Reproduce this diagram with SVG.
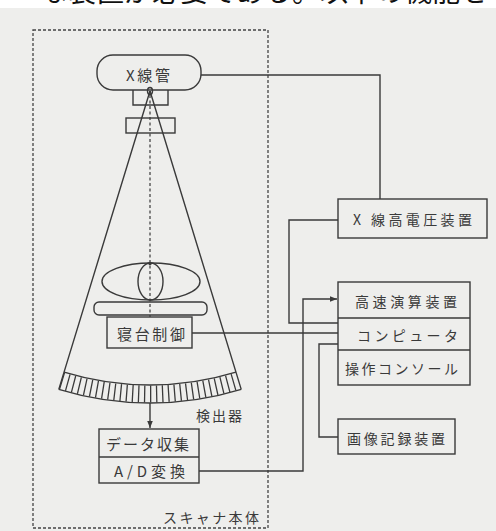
<svg xmlns="http://www.w3.org/2000/svg" width="496" height="531" viewBox="0 0 496 531">
  <defs>
    <style>
      .ln{fill:none;stroke:#3a3a3a;stroke-width:1.4}
      .box{fill:none;stroke:#3a3a3a;stroke-width:1.4}
      .frame{fill:none;stroke:#444;stroke-width:1.3;stroke-dasharray:3 2}
      .axis{fill:none;stroke:#3a3a3a;stroke-width:1.2;stroke-dasharray:3 2.5}
      .t{font-family:"Noto Sans CJK JP","Noto Sans CJK SC",sans-serif;font-size:15px;fill:#3a3a3a;text-anchor:middle;dominant-baseline:central}
      .s{font-size:14px}
    </style>
    <marker id="ah" viewBox="0 0 10 10" refX="10" refY="5" markerWidth="8" markerHeight="7" markerUnits="userSpaceOnUse" orient="auto">
      <path d="M0,1 L10,5 L0,9 z" fill="#3a3a3a"/>
    </marker>
  </defs>

  <!-- paper -->
  <rect x="0" y="0" width="496" height="531" fill="#eeeeec"/>
  <rect x="0" y="0" width="496" height="8" fill="#ffffff"/>
  <text x="40" y="2" font-family="'Noto Sans CJK JP',sans-serif" font-size="28" fill="#111" textLength="448" lengthAdjust="spacing">な装置が必要である。以下の機能を</text>

  <!-- scanner housing -->
  <g id="scanner">
    <rect class="frame" x="33" y="30" width="235" height="498"/>
    <text class="t s" x="211" y="517" textLength="96" lengthAdjust="spacing">スキャナ本体</text>
  </g>

  <!-- X-ray tube -->
  <g id="xray-tube">
    <rect class="box" x="97" y="55" width="104" height="35" rx="16"/>
    <text class="t" x="148" y="74" textLength="44" lengthAdjust="spacing">X線管</text>
    <path class="box" d="M133,90 V105 H168 V90"/>
    <ellipse class="ln" cx="150" cy="91" rx="2.5" ry="3.5"/>
  </g>

  <!-- collimator -->
  <g id="collimator">
    <rect class="box" x="126" y="118" width="49" height="15"/>
  </g>

  <!-- fan beam and central axis -->
  <g id="beam">
    <path class="ln" d="M150,91 L64.04,372.15 M150,91 L235.96,372.15"/>
    <path class="axis" d="M150,95 V317"/>
  </g>

  <!-- patient -->
  <g id="patient">
    <ellipse class="ln" cx="151" cy="281.5" rx="49" ry="18.5"/>
    <ellipse class="ln" cx="150.5" cy="281.5" rx="12.5" ry="18.5"/>
    <circle cx="150" cy="263.5" r="1.8" fill="#3a3a3a"/>
  </g>

  <!-- couch -->
  <g id="couch">
    <rect class="box" x="94" y="302" width="113" height="13" rx="5"/>
  </g>

  <!-- couch control -->
  <g id="couch-control">
    <rect class="box" x="107" y="317" width="85" height="31"/>
    <text class="t" x="151" y="333" textLength="68" lengthAdjust="spacing">寝台制御</text>
  </g>

  <!-- detector arc -->
  <g id="detector">
    <path d="M61.41,380.76 A303,303 0 0 0 238.59,380.76" fill="none" stroke="#3a3a3a" stroke-width="17" stroke-dasharray="1.3 4.693"/>
    <path class="ln" d="M64.04,372.15 A294,294 0 0 0 235.96,372.15"/>
    <path class="ln" d="M58.78,389.37 A312,312 0 0 0 241.22,389.37"/>
    <path class="ln" d="M64.04,372.15 L58.78,389.37 M235.96,372.15 L241.22,389.37"/>
    <text class="t s" x="219" y="415" textLength="46" lengthAdjust="spacing">検出器</text>
  </g>

  <!-- data acquisition / A-D -->
  <g id="daq">
    <rect class="box" x="99" y="429" width="100" height="54"/>
    <line class="ln" x1="99" y1="457" x2="199" y2="457"/>
    <text class="t" x="147.5" y="443" textLength="83" lengthAdjust="spacing">データ収集</text>
    <text class="t" x="149.5" y="470.5" textLength="71" lengthAdjust="spacing">A/D変換</text>
  </g>

  <!-- high-voltage generator -->
  <g id="hv-generator">
    <rect class="box" x="338" y="199" width="149" height="39"/>
    <text class="t s" x="412.5" y="219" textLength="119" lengthAdjust="spacing">X 線高電圧装置</text>
  </g>

  <!-- computer -->
  <g id="computer">
    <rect class="box" x="338" y="282" width="132" height="103"/>
    <line class="ln" x1="338" y1="318" x2="470" y2="318"/>
    <line class="ln" x1="338" y1="350" x2="470" y2="350"/>
    <text class="t s" x="406" y="301" textLength="102" lengthAdjust="spacing">高速演算装置</text>
    <text class="t s" x="407.5" y="335" textLength="101" lengthAdjust="spacing">コンピュータ</text>
    <text class="t s" x="401.5" y="368" textLength="113" lengthAdjust="spacing">操作コンソール</text>
  </g>

  <!-- image recorder -->
  <g id="recorder">
    <rect class="box" x="338" y="419" width="117" height="35"/>
    <text class="t s" x="396" y="438" textLength="98" lengthAdjust="spacing">画像記録装置</text>
  </g>

  <!-- connectors -->
  <g id="connectors">
    <path class="ln" d="M201,75 H380 V199"/>
    <path class="ln" d="M338,220 H289 V323 H338"/>
    <path class="ln" d="M192,333 H338"/>
    <path class="ln" d="M199,471 H303 V299 H337" marker-end="url(#ah)"/>
    <path class="ln" d="M338,344 H319 V437 H338"/>
    <path class="ln" d="M150,403 V428" marker-end="url(#ah)"/>
  </g>
</svg>
